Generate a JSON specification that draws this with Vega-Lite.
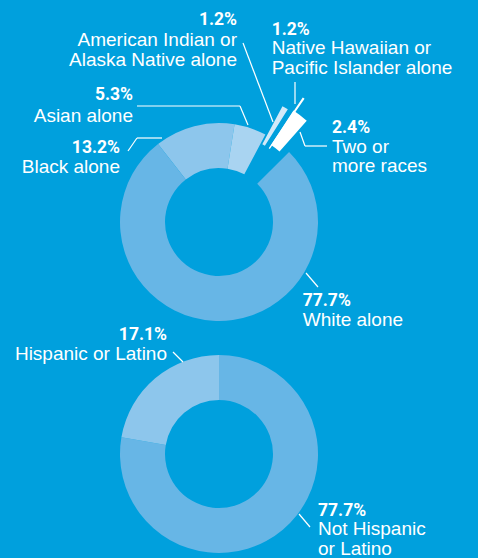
{
  "$schema": "https://vega.github.io/schema/vega-lite/v6.json",
  "width": 478,
  "height": 558,
  "autosize": "none",
  "padding": 0,
  "background": "#00a0dd",
  "datasets": {
    "race": [
      {"k": 1, "group": "Black alone", "value": 13.2, "pct": "13.2%"},
      {"k": 2, "group": "Asian alone", "value": 5.3, "pct": "5.3%"},
      {"k": 3, "group": "American Indian or\nAlaska Native alone", "value": 1.2, "pct": "1.2%"},
      {"k": 4, "group": "Native Hawaiian or\nPacific Islander alone", "value": 1.2, "pct": "1.2%"},
      {"k": 5, "group": "Two or\nmore races", "value": 2.4, "pct": "2.4%"},
      {"k": 6, "group": "White alone", "value": 77.7, "pct": "77.7%"}
    ],
    "ethnicity": [
      {"k": 1, "group": "Not Hispanic\nor Latino", "value": 77.7, "pct": "77.7%"},
      {"k": 2, "group": "Hispanic or Latino", "value": 22.3, "pct": "17.1%"}
    ]
  },
  "resolve": {"scale": {"theta": "independent"}},
  "layer": [
    {
      "data": {"name": "race"},
      "transform": [
        {"stack": "value", "groupby": [], "sort": [{"field": "k", "order": "ascending"}], "offset": "normalize", "as": ["t0", "t1"]}
      ],
      "layer": [
        {
          "transform": [{"filter": "datum.k == 1 || datum.k == 2 || datum.k == 6"}],
          "mark": {"type": "arc", "radius": 99, "radius2": 54},
          "encoding": {
            "x": {"datum": 0, "type": "quantitative", "scale": {"domain": [-2.19, 2.59], "nice": false, "zero": false}, "axis": null},
            "y": {"datum": 0, "type": "quantitative", "scale": {"domain": [-3.36, 2.22], "nice": false, "zero": false}, "axis": null},
            "theta": {"field": "t0", "type": "quantitative", "scale": {"domain": [0, 1], "range": [-0.6632, 5.62]}},
            "theta2": {"field": "t1"},
            "color": {"field": "group", "type": "nominal", "legend": null, "scale": {"domain": ["Black alone", "Asian alone", "American Indian or\nAlaska Native alone", "Native Hawaiian or\nPacific Islander alone", "Two or\nmore races", "White alone", "Not Hispanic\nor Latino", "Hispanic or Latino"], "range": ["#8dc6ec", "#a9d4f1", "#d2e9f8", "#ffffff", "#ffffff", "#67b6e6", "#67b6e6", "#8dc6ec"]}}
          }
        },
        {
          "transform": [{"filter": "datum.k == 3"}],
          "mark": {"type": "arc", "radius": 132, "radius2": 89, "padAngle": 0.023},
          "encoding": {
            "x": {"datum": 0, "type": "quantitative", "scale": {"domain": [-2.19, 2.59], "nice": false, "zero": false}, "axis": null},
            "y": {"datum": 0, "type": "quantitative", "scale": {"domain": [-3.36, 2.22], "nice": false, "zero": false}, "axis": null},
            "theta": {"field": "t0", "type": "quantitative"},
            "theta2": {"field": "t1"},
            "color": {"field": "group", "type": "nominal", "legend": null}
          }
        },
        {
          "transform": [{"filter": "datum.k == 5"}],
          "mark": {"type": "arc", "radius": 134, "radius2": 93, "padAngle": 0.02, "thetaOffset": -0.06, "theta2Offset": -0.06},
          "encoding": {
            "x": {"datum": 0, "type": "quantitative", "scale": {"domain": [-2.19, 2.59], "nice": false, "zero": false}, "axis": null},
            "y": {"datum": 0, "type": "quantitative", "scale": {"domain": [-3.36, 2.22], "nice": false, "zero": false}, "axis": null},
            "theta": {"field": "t0", "type": "quantitative"},
            "theta2": {"field": "t1"},
            "color": {"field": "group", "type": "nominal", "legend": null}
          }
        },
        {
          "transform": [{"filter": "datum.k == 4"}],
          "mark": {"type": "arc", "radius": 150, "radius2": 89, "thetaOffset": 0.03, "theta2Offset": -0.03},
          "encoding": {
            "x": {"datum": 0, "type": "quantitative", "scale": {"domain": [-2.19, 2.59], "nice": false, "zero": false}, "axis": null},
            "y": {"datum": 0, "type": "quantitative", "scale": {"domain": [-3.36, 2.22], "nice": false, "zero": false}, "axis": null},
            "theta": {"field": "t0", "type": "quantitative"},
            "theta2": {"field": "t1"},
            "color": {"field": "group", "type": "nominal", "legend": null}
          }
        },
        {
          "transform": [{"filter": "datum.k == 1"}],
          "mark": {"type": "rule"},
          "encoding": {
            "x": {"datum": -0.91, "type": "quantitative", "scale": {"domain": [-2.19, 2.59], "nice": false, "zero": false}, "axis": null},
            "y": {"datum": 0.71, "type": "quantitative", "scale": {"domain": [-3.36, 2.22], "nice": false, "zero": false}, "axis": null},
            "x2": {"datum": -0.82}, "y2": {"datum": 0.84}
          }
        },
        {
          "transform": [{"filter": "datum.k == 1"}],
          "mark": {"type": "rule"},
          "encoding": {
            "x": {"datum": -0.82, "type": "quantitative", "scale": {"domain": [-2.19, 2.59], "nice": false, "zero": false}, "axis": null},
            "y": {"datum": 0.84, "type": "quantitative", "scale": {"domain": [-3.36, 2.22], "nice": false, "zero": false}, "axis": null},
            "x2": {"datum": -0.57}, "y2": {"datum": 0.84}
          }
        },
        {
          "transform": [{"filter": "datum.k == 2"}],
          "mark": {"type": "rule"},
          "encoding": {
            "x": {"datum": -0.82, "type": "quantitative", "scale": {"domain": [-2.19, 2.59], "nice": false, "zero": false}, "axis": null},
            "y": {"datum": 1.16, "type": "quantitative", "scale": {"domain": [-3.36, 2.22], "nice": false, "zero": false}, "axis": null},
            "x2": {"datum": 0.21}, "y2": {"datum": 1.16}
          }
        },
        {
          "transform": [{"filter": "datum.k == 2"}],
          "mark": {"type": "rule"},
          "encoding": {
            "x": {"datum": 0.21, "type": "quantitative", "scale": {"domain": [-2.19, 2.59], "nice": false, "zero": false}, "axis": null},
            "y": {"datum": 1.16, "type": "quantitative", "scale": {"domain": [-3.36, 2.22], "nice": false, "zero": false}, "axis": null},
            "x2": {"datum": 0.29}, "y2": {"datum": 0.97}
          }
        },
        {
          "transform": [{"filter": "datum.k == 3"}],
          "mark": {"type": "rule"},
          "encoding": {
            "x": {"datum": 0.24, "type": "quantitative", "scale": {"domain": [-2.19, 2.59], "nice": false, "zero": false}, "axis": null},
            "y": {"datum": 1.79, "type": "quantitative", "scale": {"domain": [-3.36, 2.22], "nice": false, "zero": false}, "axis": null},
            "x2": {"datum": 0.54}, "y2": {"datum": 1.0}
          }
        },
        {
          "transform": [{"filter": "datum.k == 4"}],
          "mark": {"type": "rule"},
          "encoding": {
            "x": {"datum": 0.76, "type": "quantitative", "scale": {"domain": [-2.19, 2.59], "nice": false, "zero": false}, "axis": null},
            "y": {"datum": 1.40, "type": "quantitative", "scale": {"domain": [-3.36, 2.22], "nice": false, "zero": false}, "axis": null},
            "x2": {"datum": 0.76}, "y2": {"datum": 1.18}
          }
        },
        {
          "transform": [{"filter": "datum.k == 5"}],
          "mark": {"type": "rule"},
          "encoding": {
            "x": {"datum": 0.81, "type": "quantitative", "scale": {"domain": [-2.19, 2.59], "nice": false, "zero": false}, "axis": null},
            "y": {"datum": 0.90, "type": "quantitative", "scale": {"domain": [-3.36, 2.22], "nice": false, "zero": false}, "axis": null},
            "x2": {"datum": 0.86}, "y2": {"datum": 0.76}
          }
        },
        {
          "transform": [{"filter": "datum.k == 5"}],
          "mark": {"type": "rule"},
          "encoding": {
            "x": {"datum": 0.86, "type": "quantitative", "scale": {"domain": [-2.19, 2.59], "nice": false, "zero": false}, "axis": null},
            "y": {"datum": 0.76, "type": "quantitative", "scale": {"domain": [-3.36, 2.22], "nice": false, "zero": false}, "axis": null},
            "x2": {"datum": 1.08}, "y2": {"datum": 0.76}
          }
        },
        {
          "transform": [{"filter": "datum.k == 6"}],
          "mark": {"type": "rule"},
          "encoding": {
            "x": {"datum": 0.87, "type": "quantitative", "scale": {"domain": [-2.19, 2.59], "nice": false, "zero": false}, "axis": null},
            "y": {"datum": -0.51, "type": "quantitative", "scale": {"domain": [-3.36, 2.22], "nice": false, "zero": false}, "axis": null},
            "x2": {"datum": 0.99}, "y2": {"datum": -0.65}
          }
        },
        {
          "transform": [{"filter": "datum.k == 1"}],
          "mark": {"type": "text", "align": "right", "fontWeight": "bold", "font": "Roboto, sans-serif", "fontSize": 17.5},
          "encoding": {
            "x": {"datum": -0.99, "type": "quantitative", "scale": {"domain": [-2.19, 2.59], "nice": false, "zero": false}, "axis": null},
            "y": {"datum": 0.693, "type": "quantitative", "scale": {"domain": [-3.36, 2.22], "nice": false, "zero": false}, "axis": null},
            "text": {"field": "pct"}
          }
        },
        {
          "transform": [{"filter": "datum.k == 1"}],
          "mark": {"type": "text", "align": "right"},
          "encoding": {
            "x": {"datum": -0.99, "type": "quantitative", "scale": {"domain": [-2.19, 2.59], "nice": false, "zero": false}, "axis": null},
            "y": {"datum": 0.493, "type": "quantitative", "scale": {"domain": [-3.36, 2.22], "nice": false, "zero": false}, "axis": null},
            "text": {"field": "group"}
          }
        },
        {
          "transform": [{"filter": "datum.k == 2"}],
          "mark": {"type": "text", "align": "right", "fontWeight": "bold", "font": "Roboto, sans-serif", "fontSize": 17.5},
          "encoding": {
            "x": {"datum": -0.86, "type": "quantitative", "scale": {"domain": [-2.19, 2.59], "nice": false, "zero": false}, "axis": null},
            "y": {"datum": 1.22, "type": "quantitative", "scale": {"domain": [-3.36, 2.22], "nice": false, "zero": false}, "axis": null},
            "text": {"field": "pct"}
          }
        },
        {
          "transform": [{"filter": "datum.k == 2"}],
          "mark": {"type": "text", "align": "right"},
          "encoding": {
            "x": {"datum": -0.86, "type": "quantitative", "scale": {"domain": [-2.19, 2.59], "nice": false, "zero": false}, "axis": null},
            "y": {"datum": 1.0, "type": "quantitative", "scale": {"domain": [-3.36, 2.22], "nice": false, "zero": false}, "axis": null},
            "text": {"field": "group"}
          }
        },
        {
          "transform": [{"filter": "datum.k == 3"}],
          "mark": {"type": "text", "align": "right", "fontWeight": "bold", "font": "Roboto, sans-serif", "fontSize": 17.5},
          "encoding": {
            "x": {"datum": 0.18, "type": "quantitative", "scale": {"domain": [-2.19, 2.59], "nice": false, "zero": false}, "axis": null},
            "y": {"datum": 1.97, "type": "quantitative", "scale": {"domain": [-3.36, 2.22], "nice": false, "zero": false}, "axis": null},
            "text": {"field": "pct"}
          }
        },
        {
          "transform": [{"filter": "datum.k == 3"}],
          "mark": {"type": "text", "align": "right"},
          "encoding": {
            "x": {"datum": 0.18, "type": "quantitative", "scale": {"domain": [-2.19, 2.59], "nice": false, "zero": false}, "axis": null},
            "y": {"datum": 1.76, "type": "quantitative", "scale": {"domain": [-3.36, 2.22], "nice": false, "zero": false}, "axis": null},
            "text": {"field": "group"}
          }
        },
        {
          "transform": [{"filter": "datum.k == 4"}],
          "mark": {"type": "text", "align": "left", "fontWeight": "bold", "font": "Roboto, sans-serif", "fontSize": 17.5},
          "encoding": {
            "x": {"datum": 0.527, "type": "quantitative", "scale": {"domain": [-2.19, 2.59], "nice": false, "zero": false}, "axis": null},
            "y": {"datum": 1.87, "type": "quantitative", "scale": {"domain": [-3.36, 2.22], "nice": false, "zero": false}, "axis": null},
            "text": {"field": "pct"}
          }
        },
        {
          "transform": [{"filter": "datum.k == 4"}],
          "mark": {"type": "text", "align": "left"},
          "encoding": {
            "x": {"datum": 0.527, "type": "quantitative", "scale": {"domain": [-2.19, 2.59], "nice": false, "zero": false}, "axis": null},
            "y": {"datum": 1.677, "type": "quantitative", "scale": {"domain": [-3.36, 2.22], "nice": false, "zero": false}, "axis": null},
            "text": {"field": "group"}
          }
        },
        {
          "transform": [{"filter": "datum.k == 5"}],
          "mark": {"type": "text", "align": "left", "fontWeight": "bold", "font": "Roboto, sans-serif", "fontSize": 17.5},
          "encoding": {
            "x": {"datum": 1.13, "type": "quantitative", "scale": {"domain": [-2.19, 2.59], "nice": false, "zero": false}, "axis": null},
            "y": {"datum": 0.887, "type": "quantitative", "scale": {"domain": [-3.36, 2.22], "nice": false, "zero": false}, "axis": null},
            "text": {"field": "pct"}
          }
        },
        {
          "transform": [{"filter": "datum.k == 5"}],
          "mark": {"type": "text", "align": "left"},
          "encoding": {
            "x": {"datum": 1.13, "type": "quantitative", "scale": {"domain": [-2.19, 2.59], "nice": false, "zero": false}, "axis": null},
            "y": {"datum": 0.693, "type": "quantitative", "scale": {"domain": [-3.36, 2.22], "nice": false, "zero": false}, "axis": null},
            "text": {"field": "group"}
          }
        },
        {
          "transform": [{"filter": "datum.k == 6"}],
          "mark": {"type": "text", "align": "left", "fontWeight": "bold", "font": "Roboto, sans-serif", "fontSize": 17.5},
          "encoding": {
            "x": {"datum": 0.837, "type": "quantitative", "scale": {"domain": [-2.19, 2.59], "nice": false, "zero": false}, "axis": null},
            "y": {"datum": -0.837, "type": "quantitative", "scale": {"domain": [-3.36, 2.22], "nice": false, "zero": false}, "axis": null},
            "text": {"field": "pct"}
          }
        },
        {
          "transform": [{"filter": "datum.k == 6"}],
          "mark": {"type": "text", "align": "left"},
          "encoding": {
            "x": {"datum": 0.837, "type": "quantitative", "scale": {"domain": [-2.19, 2.59], "nice": false, "zero": false}, "axis": null},
            "y": {"datum": -1.04, "type": "quantitative", "scale": {"domain": [-3.36, 2.22], "nice": false, "zero": false}, "axis": null},
            "text": {"field": "group"}
          }
        }
      ]
    },
    {
      "data": {"name": "ethnicity"},
      "transform": [
        {"stack": "value", "groupby": [], "sort": [{"field": "k", "order": "ascending"}], "offset": "normalize", "as": ["t0", "t1"]}
      ],
      "layer": [
        {
          "mark": {"type": "arc", "radius": 99, "radius2": 54},
          "encoding": {
            "x": {"datum": 0, "type": "quantitative", "scale": {"domain": [-2.19, 2.59], "nice": false, "zero": false}, "axis": null},
            "y": {"datum": -2.32, "type": "quantitative", "scale": {"domain": [-3.36, 2.22], "nice": false, "zero": false}, "axis": null},
            "theta": {"field": "t0", "type": "quantitative", "scale": {"domain": [0, 1], "range": [0, 6.2832]}},
            "theta2": {"field": "t1"},
            "color": {"field": "group", "type": "nominal", "legend": null}
          }
        },
        {
          "transform": [{"filter": "datum.k == 2"}],
          "mark": {"type": "rule"},
          "encoding": {
            "x": {"datum": -0.46, "type": "quantitative", "scale": {"domain": [-2.19, 2.59], "nice": false, "zero": false}, "axis": null},
            "y": {"datum": -1.30, "type": "quantitative", "scale": {"domain": [-3.36, 2.22], "nice": false, "zero": false}, "axis": null},
            "x2": {"datum": -0.36}, "y2": {"datum": -1.40}
          }
        },
        {
          "transform": [{"filter": "datum.k == 1"}],
          "mark": {"type": "rule"},
          "encoding": {
            "x": {"datum": 0.80, "type": "quantitative", "scale": {"domain": [-2.19, 2.59], "nice": false, "zero": false}, "axis": null},
            "y": {"datum": -2.92, "type": "quantitative", "scale": {"domain": [-3.36, 2.22], "nice": false, "zero": false}, "axis": null},
            "x2": {"datum": 0.91}, "y2": {"datum": -3.05}
          }
        },
        {
          "transform": [{"filter": "datum.k == 2"}],
          "mark": {"type": "text", "align": "right", "fontWeight": "bold", "font": "Roboto, sans-serif", "fontSize": 17.5},
          "encoding": {
            "x": {"datum": -0.52, "type": "quantitative", "scale": {"domain": [-2.19, 2.59], "nice": false, "zero": false}, "axis": null},
            "y": {"datum": -1.18, "type": "quantitative", "scale": {"domain": [-3.36, 2.22], "nice": false, "zero": false}, "axis": null},
            "text": {"field": "pct"}
          }
        },
        {
          "transform": [{"filter": "datum.k == 2"}],
          "mark": {"type": "text", "align": "right"},
          "encoding": {
            "x": {"datum": -0.52, "type": "quantitative", "scale": {"domain": [-2.19, 2.59], "nice": false, "zero": false}, "axis": null},
            "y": {"datum": -1.38, "type": "quantitative", "scale": {"domain": [-3.36, 2.22], "nice": false, "zero": false}, "axis": null},
            "text": {"field": "group"}
          }
        },
        {
          "transform": [{"filter": "datum.k == 1"}],
          "mark": {"type": "text", "align": "left", "fontWeight": "bold", "font": "Roboto, sans-serif", "fontSize": 17.5},
          "encoding": {
            "x": {"datum": 0.99, "type": "quantitative", "scale": {"domain": [-2.19, 2.59], "nice": false, "zero": false}, "axis": null},
            "y": {"datum": -2.937, "type": "quantitative", "scale": {"domain": [-3.36, 2.22], "nice": false, "zero": false}, "axis": null},
            "text": {"field": "pct"}
          }
        },
        {
          "transform": [{"filter": "datum.k == 1"}],
          "mark": {"type": "text", "align": "left"},
          "encoding": {
            "x": {"datum": 0.99, "type": "quantitative", "scale": {"domain": [-2.19, 2.59], "nice": false, "zero": false}, "axis": null},
            "y": {"datum": -3.13, "type": "quantitative", "scale": {"domain": [-3.36, 2.22], "nice": false, "zero": false}, "axis": null},
            "text": {"field": "group"}
          }
        }
      ]
    }
  ],
  "config": {
    "view": {"stroke": null},
    "text": {"color": "#ffffff", "fontSize": 19, "font": "Liberation Sans, sans-serif", "baseline": "alphabetic", "lineBreak": "\n", "lineHeight": 19.5},
    "rule": {"color": "#ffffff", "strokeWidth": 1.2}
  }
}
